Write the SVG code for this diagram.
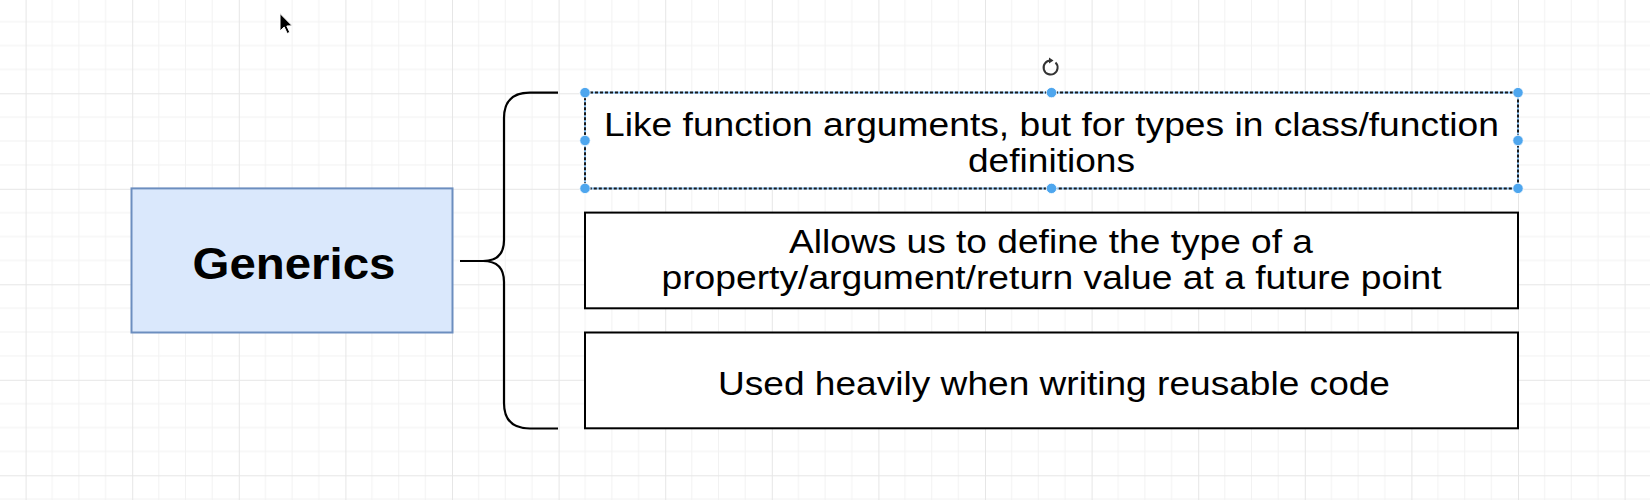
<svg xmlns="http://www.w3.org/2000/svg" width="1650" height="500" viewBox="0 0 1650 500">
  <defs>
    <pattern id="grid" x="25.6" y="-2.2" width="106.6" height="95.5" patternUnits="userSpaceOnUse">
      <path d="M26.65,0 V95.5 M53.3,0 V95.5 M79.95,0 V95.5 M0,23.87 H106.6 M0,47.75 H106.6 M0,71.62 H106.6" stroke="#f2f2f2" stroke-width="1" fill="none"/>
      <path d="M0.5,0 V95.5 M0,0.5 H106.6" stroke="#e6e6e6" stroke-width="1" fill="none"/>
    </pattern>
    <style>
      .box { fill: #ffffff; stroke: #000000; stroke-width: 2; }
      .txt { font-family: "Liberation Sans", Arial, sans-serif; font-size: 32.5px; fill: #000000; text-anchor: middle; }
      .title { font-family: "Liberation Sans", Arial, sans-serif; font-size: 45px; font-weight: bold; fill: #000000; text-anchor: middle; }
      .handle { fill: #4ea6ee; stroke: #ffffff; stroke-width: 0.8; }
    </style>
  </defs>

  <rect x="0" y="0" width="1650" height="500" fill="#ffffff"/>
  <rect x="0" y="0" width="1650" height="500" fill="url(#grid)"/>

  <g id="generics">
    <rect x="131.5" y="188.4" width="321" height="144.1" fill="#dae8fc" stroke="#6c8ebf" stroke-width="2"/>
    <text class="title" x="294" y="279" textLength="203" lengthAdjust="spacingAndGlyphs">Generics</text>
  </g>

  <g id="connectors">
    <path d="M558,92.7 H530 Q504,92.7 504,118 V240 Q504,261 483,261 Q504,261 504,282 V403 Q504,428.5 530,428.5 H558 M483,261 H460" fill="none" stroke="#000000" stroke-width="2.2"/>
  </g>

  <g id="item1">
    <rect x="585" y="92.6" width="933" height="95.8" fill="#ffffff" stroke="#8cc4f5" stroke-width="2"/>
    <rect x="585" y="92.6" width="933" height="95.8" fill="none" stroke="#1a1a1a" stroke-width="2" stroke-dasharray="3 2"/>
    <text class="txt" x="1051.5" y="135.8" textLength="895" lengthAdjust="spacingAndGlyphs">Like function arguments, but for types in class/function</text>
    <text class="txt" x="1051.5" y="172.1" textLength="167" lengthAdjust="spacingAndGlyphs">definitions</text>
    <circle class="handle" cx="585" cy="92.6" r="5.2"/>
    <circle class="handle" cx="1051.5" cy="92.6" r="5.2"/>
    <circle class="handle" cx="1518" cy="92.6" r="5.2"/>
    <circle class="handle" cx="585" cy="140.5" r="5.2"/>
    <circle class="handle" cx="1518" cy="140.5" r="5.2"/>
    <circle class="handle" cx="585" cy="188.4" r="5.2"/>
    <circle class="handle" cx="1051.5" cy="188.4" r="5.2"/>
    <circle class="handle" cx="1518" cy="188.4" r="5.2"/>
    <path d="M1055.5,62.5 A7,7 0 1 1 1050.5,60.5" fill="none" stroke="#333333" stroke-width="2"/>
    <path d="M1049,57.5 L1053.5,60.5 L1049,63.5 Z" fill="#333333"/>
  </g>

  <g id="item2">
    <rect class="box" x="585" y="212.6" width="933" height="95.7"/>
    <text class="txt" x="1051" y="253" textLength="524" lengthAdjust="spacingAndGlyphs">Allows us to define the type of a</text>
    <text class="txt" x="1051.5" y="289.3" textLength="780" lengthAdjust="spacingAndGlyphs">property/argument/return value at a future point</text>
  </g>

  <g id="item3">
    <rect class="box" x="585" y="332.5" width="933" height="95.8"/>
    <text class="txt" x="1054" y="394.5" textLength="672" lengthAdjust="spacingAndGlyphs">Used heavily when writing reusable code</text>
  </g>

  <g id="cursor">
    <path d="M280,13.5 L280,31 L284.2,27 L287.2,33.5 L289.8,32.3 L286.8,26 L292.2,25.8 Z" fill="#000000" stroke="#ffffff" stroke-width="1"/>
  </g>
</svg>
